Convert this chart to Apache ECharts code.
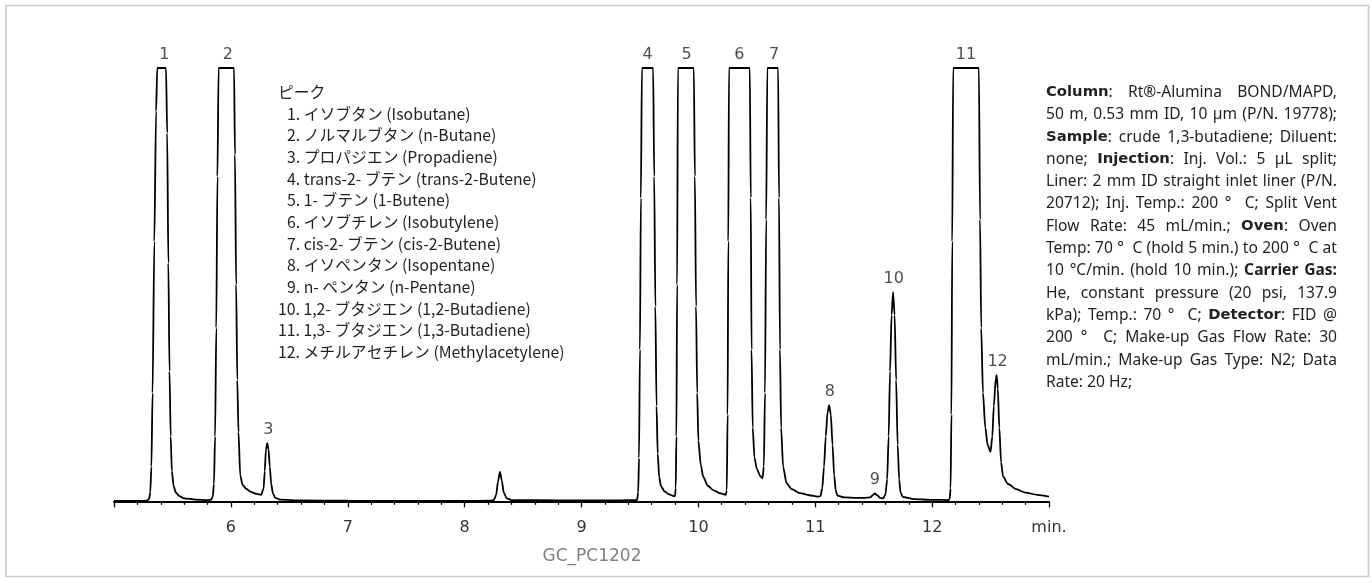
<!DOCTYPE html>
<html>
<head>
<meta charset="utf-8">
<script src="https://cdn.jsdelivr.net/npm/echarts@6/dist/echarts.min.js"></script>
<style>
  html, body { margin: 0; padding: 0; background: #fff; }
  #chart { width: 1372px; height: 583px; }
</style>
</head>
<body>
<div id="chart"></div>
<script>
// 保持时间 (min) / 信号 — 读自原图
const trace = [
  [5.00, 0.1], [5.10, 0.1], [5.20, 0.1], [5.28, 0.15], [5.30, 0.5], [5.31, 2], [5.32, 8], [5.33, 25],
  [5.345, 60], [5.36, 90], [5.37, 100], [5.445, 100], [5.455, 85], [5.465, 55], [5.475, 30], [5.485, 15],
  [5.495, 7], [5.51, 3.5], [5.53, 2], [5.56, 1.2], [5.60, 0.7], [5.70, 0.4], [5.80, 0.3], [5.83, 0.35],
  [5.845, 1], [5.855, 4], [5.865, 15], [5.875, 40], [5.885, 75], [5.895, 100], [6.027, 100], [6.035, 80],
  [6.045, 50], [6.055, 28], [6.065, 16], [6.08, 6], [6.10, 3.8], [6.13, 2.9], [6.17, 2.2], [6.22, 1.7],
  [6.26, 1.5], [6.28, 3], [6.29, 7], [6.30, 12], [6.311, 13.4], [6.322, 12], [6.333, 8], [6.345, 4],
  [6.36, 1.8], [6.38, 0.8], [6.42, 0.4], [6.60, 0.2], [7.00, 0.15], [7.50, 0.1], [8.00, 0.1], [8.22, 0.15],
  [8.25, 0.3], [8.27, 1.5], [8.285, 4.5], [8.302, 6.8], [8.318, 4.8], [8.335, 2], [8.36, 0.7], [8.40, 0.3],
  [8.80, 0.2], [9.30, 0.2], [9.475, 0.3], [9.485, 2], [9.492, 10], [9.50, 35], [9.508, 70], [9.517, 100],
  [9.613, 100], [9.622, 75], [9.632, 45], [9.642, 22], [9.652, 11], [9.665, 5.5], [9.68, 3.5], [9.71, 2.3],
  [9.75, 1.6], [9.79, 1.2], [9.80, 1.2], [9.806, 3], [9.812, 15], [9.818, 50], [9.825, 100], [9.961, 100],
  [9.97, 75], [9.98, 45], [9.99, 25], [10.00, 14], [10.02, 8.5], [10.041, 5.7], [10.08, 3.6], [10.127, 2.6],
  [10.18, 1.9], [10.235, 1.5], [10.243, 2.5], [10.25, 20], [10.256, 60], [10.262, 100], [10.44, 100],
  [10.448, 70], [10.455, 35], [10.465, 17], [10.48, 10], [10.50, 7.5], [10.53, 5.8], [10.549, 5.3],
  [10.56, 8], [10.57, 25], [10.58, 65], [10.59, 100], [10.682, 100], [10.69, 70], [10.698, 35], [10.708, 17],
  [10.725, 8], [10.754, 4.2], [10.80, 2.8], [10.868, 1.9], [10.95, 1.4], [11.02, 1.1], [11.045, 1.2],
  [11.06, 3], [11.075, 8], [11.09, 15], [11.105, 20.5], [11.119, 22.2], [11.133, 20], [11.148, 13],
  [11.162, 6], [11.175, 2.5], [11.19, 1.3], [11.25, 0.9], [11.35, 0.8], [11.42, 0.8], [11.47, 0.9],
  [11.495, 1.5], [11.51, 1.85], [11.53, 1.4], [11.555, 0.8], [11.58, 0.7], [11.60, 1.5], [11.615, 5],
  [11.628, 15], [11.64, 30], [11.653, 43], [11.666, 48.3], [11.679, 43], [11.692, 28], [11.705, 13],
  [11.718, 5], [11.73, 2], [11.75, 1.0], [11.85, 0.5], [12.00, 0.35], [12.14, 0.3], [12.15, 0.5],
  [12.158, 3], [12.165, 20], [12.172, 60], [12.18, 100], [12.40, 100], [12.41, 65], [12.42, 40],
  [12.435, 25], [12.455, 17], [12.475, 13], [12.50, 11.4], [12.515, 15], [12.528, 22], [12.545, 28.5],
  [12.552, 29.1], [12.562, 26], [12.575, 17], [12.59, 9], [12.607, 5.7], [12.65, 4], [12.72, 2.8],
  [12.80, 2], [12.90, 1.5], [13.00, 1.1]
]

// 峰号、峰顶位置
const peakIds = ['1', '2', '3', '4', '5', '6', '7', '8', '9', '10', '11', '12']
const peakTimes = [5.43, 5.975, 6.32, 9.566, 9.9, 10.351, 10.647, 11.125, 11.51, 11.672, 12.29, 12.56]
const peakHeights = [100, 100, 13.4, 100, 100, 100, 100, 22.2, 1.85, 48.3, 100, 29.1]

// 峰名
const peakNames = [
  'イソブタン (Isobutane)',
  'ノルマルブタン (n-Butane)',
  'プロパジエン (Propadiene)',
  'trans-2- ブテン (trans-2-Butene)',
  '1- ブテン (1-Butene)',
  'イソブチレン (Isobutylene)',
  'cis-2- ブテン (cis-2-Butene)',
  'イソペンタン (Isopentane)',
  'n- ペンタン (n-Pentane)',
  '1,2- ブタジエン (1,2-Butadiene)',
  '1,3- ブタジエン (1,3-Butadiene)',
  'メチルアセチレン (Methylacetylene)'
]

// 条件说明 (b / c = 粗体)
const specLines = [
  '{b|Column}: Rt®-Alumina BOND/MAPD,',
  '50 m, 0.53 mm ID, 10 µm (P/N. 19778);',
  '{b|Sample}: crude 1,3-butadiene; Diluent:',
  'none; {b|Injection}: Inj. Vol.: 5 µL split;',
  'Liner: 2 mm ID straight inlet liner (P/N.',
  '20712); Inj. Temp.: 200 °  C; Split Vent',
  'Flow Rate: 45 mL/min.; {b|Oven}: Oven',
  'Temp: 70 °  C (hold 5 min.) to 200 °  C at',
  '10 °C/min. (hold 10 min.); {c|Carrier} {c|Gas:}',
  'He, constant pressure (20 psi, 137.9',
  'kPa); Temp.: 70 °  C; {b|Detector}: FID @',
  '200 °  C; Make-up Gas Flow Rate: 30',
  'mL/min.; Make-up Gas Type: N2; Data',
  'Rate: 20 Hz;'
]

const chartCode = 'GC_PC1202'

const myChart = echarts.init(document.querySelector('#chart'))

// NOTE - 文字样式
const textFont = { family: '"Noto Sans"', weight: 'normal', size: 15.6 }
const richFonts = {
  b: { family: '"DejaVu Sans"', weight: 'bold', size: 14.8 },
  c: { family: '"Noto Sans"', weight: 'bold', size: 15.6 }
}
const ctx = document.createElement('canvas').getContext('2d')
const measure = (str, f) => {
  ctx.font = `${f.weight} ${f.size}px ${f.family}`
  return ctx.measureText(str).width
}
const wordWidth = word => {
  let w = 0
  word.replace(/\{(\w)\|([^}]*)\}|([^{]+)/g, (m, key, inner, plain) => {
    w += key ? measure(inner, richFonts[key]) : measure(plain, textFont)
    return m
  })
  return w
}
const richStyle = {}
Object.keys(richFonts).forEach(k => {
  richStyle[k] = {
    fontFamily: richFonts[k].family,
    fontWeight: richFonts[k].weight,
    fontSize: richFonts[k].size,
    fill: '#231f20'
  }
})

const graphics = [
  {
    type: 'rect',
    silent: true,
    shape: { x: 6, y: 5.5, width: 1362.5, height: 571 },
    style: { fill: null, stroke: '#c8cdd4', lineWidth: 1.6 }
  },
  {
    type: 'text',
    style: {
      text: 'ピーク', x: 278, y: 92, verticalAlign: 'middle',
      fontFamily: '"Noto Sans CJK JP"', fontSize: 15.8, fill: '#231f20'
    }
  },
  {
    type: 'text',
    style: {
      text: chartCode, x: 592, y: 557, align: 'center', verticalAlign: 'middle',
      fontFamily: '"DejaVu Sans"', fontSize: 17, fill: '#808080'
    }
  }
]

peakNames.forEach((name, i) => {
  graphics.push({
    type: 'text',
    style: {
      text: `${i + 1}. ${name}`,
      x: i < 9 ? 287 : 278,
      y: 92 + 21.67 * (i + 1),
      verticalAlign: 'middle',
      fontFamily: '"Noto Sans CJK JP"',
      fontSize: 15.8,
      fill: '#231f20'
    }
  })
})

// NOTE - 两端对齐的说明段落
const blockLeft = 1046
const blockWidth = 291
specLines.forEach((line, i) => {
  const y = 92.5 + 22.3 * i
  const words = line.split(' ')
  const widths = words.map(wordWidth)
  const total = widths.reduce((a, b) => a + b, 0)
  const isLast = i === specLines.length - 1
  const gap = isLast ? measure(' ', textFont) : (blockWidth - total) / (words.length - 1)
  let x = blockLeft
  words.forEach((word, j) => {
    if (word) {
      graphics.push({
        type: 'text',
        style: {
          text: word, x, y, verticalAlign: 'middle',
          fontFamily: textFont.family, fontSize: textFont.size, fill: '#231f20',
          rich: richStyle
        }
      })
    }
    x += widths[j] + gap
  })
})

const option = {
  animation: false,
  backgroundColor: '#fff',
  grid: { left: 114, right: 323, top: 68, bottom: 73 },
  xAxis: {
    type: 'value',
    min: 5,
    max: 13,
    interval: 1,
    splitLine: { show: false },
    axisLine: { lineStyle: { color: '#000', width: 2 } },
    axisTick: { length: 6, lineStyle: { color: '#000', width: 1.3 } },
    minorTick: { show: true, splitNumber: 5, length: 3.5, lineStyle: { color: '#000', width: 1.3 } },
    axisLabel: {
      margin: 10,
      fontFamily: '"DejaVu Sans"',
      fontSize: 16,
      color: '#333',
      formatter: v => (v === 5 ? '' : v === 13 ? 'min.' : String(v))
    }
  },
  yAxis: {
    type: 'value',
    min: -2,
    max: 100,
    show: false
  },
  series: [
    {
      type: 'line',
      data: trace,
      showSymbol: false,
      smooth: 0.25,
      smoothMonotone: 'x',
      lineStyle: { color: '#000', width: 1.8 },
      clip: false
    },
    {
      type: 'scatter',
      symbolSize: 0,
      clip: false,
      data: peakTimes.map((t, i) => [t, peakHeights[i]]),
      label: {
        show: true,
        position: 'top',
        distance: 5,
        fontFamily: '"DejaVu Sans"',
        fontSize: 16,
        color: '#222',
        formatter: p => peakIds[p.dataIndex]
      }
    }
  ],
  graphic: graphics
}

myChart.setOption(option)
</script>
</body>
</html>
